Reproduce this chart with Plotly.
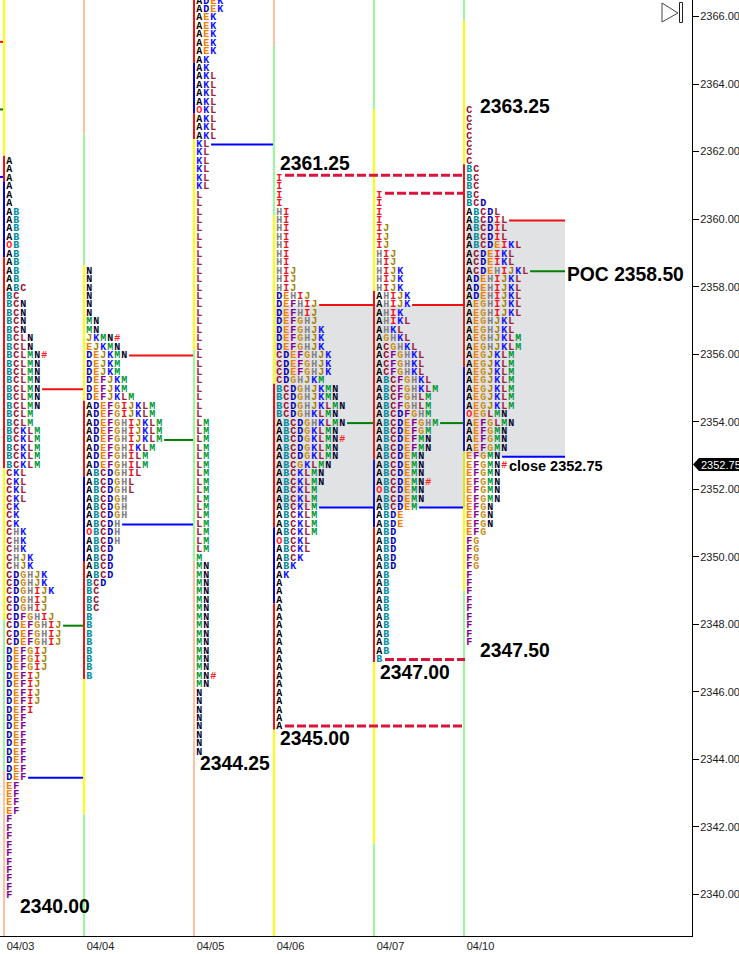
import plotly.graph_objects as go

# profile rows, top row first, one row per 0.25 price step. '#' marks the close
DATES = ["04/03", "04/04", "04/05", "04/06", "04/07", "04/10"]
TOP_PRICES = [2361.75, 2358.50, 2366.50, 2361.25, 2360.75, 2363.25]

ROWS_0403 = (["A"] * 6 + ["AB"] * 4 + ["OB"] + ["AB"] * 4 + ["ABC", "BC"] + ["BCN"] * 4 + ["BCLN"] * 2
             + ["BCLMN#"] + ["BCLMN"] * 6 + ["BCLM"] * 2 + ["BCKLM"] * 5 + ["CKL"] * 4 + ["CK"] * 3
             + ["CHK"] * 3 + ["CHJK"] * 2 + ["CDGHJK"] * 2 + ["CDGHIJK"] + ["CDGHIJ"] * 2 + ["CDFGHIJ"]
             + ["CDEFGHIJ"] * 3 + ["DEFGIJ"] * 3 + ["DEFIJ"] * 4 + ["DEFI"] + ["DEF"] * 8 + ["EF"] * 4 + ["F"] * 10)
ROWS_0404 = (["N"] * 6 + ["MN"] * 2 + ["JKMN#", "EJKMN", "DEJKMN"] + ["DEJKM"] * 2 + ["DEFJKM"] * 2 + ["DEFJKLM"]
             + ["ADEFGIJKLM"] * 2 + ["ADEFGHIJKLM"] * 3 + ["ADEFGHIKLM"] + ["ADEFGHILM"] * 2 + ["ABCDGHIL"]
             + ["ABCDGHL"] * 2 + ["ABCDGH"] * 3 + ["ABCDH", "OBCDH", "ABCDH"] + ["ABCD"] * 4 + ["BCD"]
             + ["BC"] * 3 + ["B"] * 8)
ROWS_0405 = (["ADEK"] * 2 + ["AEK"] * 5 + ["AK"] * 2 + ["AKL"] * 4 + ["OKL"] + ["AKL"] * 3 + ["KL"] * 6 + ["L"] * 27
             + ["LM"] * 16 + ["M"] + ["MN"] * 13 + ["MN#", "MN"] + ["N"] * 8)
ROWS_0406 = (["I"] * 4 + ["HI"] * 7 + ["HIJ"] * 3 + ["DEHIJ"] + ["DEFHIJ"] * 2 + ["DEFGHJ"] + ["DEFGHJK"] * 3
             + ["CDEFGHJK"] * 3 + ["CDGHJKM"] + ["BCDGHJKMN"] * 2 + ["BCDGHJKLMN", "BCDGHKLMN", "ABCDGHKLMN",
             "ABCDGKLMN", "ABCDGKLMN#", "ABCDGKLMN", "ABCDGKLMN", "ABCGKLMN"] + ["ABCKLMN"] * 2 + ["ABCKLM"] * 6
             + ["OBCKL", "ABCKL", "ABCK", "ABK", "AK"] + ["A"] * 18)
ROWS_0407 = (["I"] * 4 + ["IJ"] * 3 + ["HIJ"] * 2 + ["HIJK"] * 3 + ["AHIJK"] * 2 + ["AHIK", "AHIKL", "AHKL", "AGHKL",
             "ACGHKL"] + ["ACFGHKL"] * 3 + ["ABCFGHKL", "ABCFGHKLM"] + ["ABCFGHLM"] * 2 + ["ABCDFGHM", "ABCDEFGHM",
             "ABCDEFGM"] + ["ABCDEFMN"] * 2 + ["ABCDEMN"] * 3 + ["ABCDEMN#", "OBCDEMN", "ABCDEMN", "ABCDEM"]
             + ["ABDE"] * 2 + ["ABD"] * 5 + ["AB"] * 10 + ["B"])
ROWS_0410 = (["C"] * 7 + ["BC"] * 4 + ["BCD", "ABCDL"] + ["ABCDIL"] * 3 + ["ABCDEIKL"] + ["ACDEIKL"] * 2 + ["ACDEHIJKL"]
             + ["ADEHIJKL"] * 3 + ["AEGHIJKL"] * 2 + ["AEGHJKL"] * 2 + ["AEGHJKLM"] * 2 + ["AEGJKLM"] * 7
             + ["OEGLMN", "AEFGLMN"] + ["AEFGMN"] * 3 + ["EFGMN", "EFGMN#"] + ["EFGMN"] * 4 + ["EFGN"] * 3 + ["EFG"]
             + ["FG"] * 4 + ["F"] * 9)
PROFILES = [ROWS_0403, ROWS_0404, ROWS_0405, ROWS_0406, ROWS_0407, ROWS_0410]

# value area: high, poc, low for each session (None = off the chart)
VA_HIGH = [2355.00, 2356.00, None, 2357.50, 2357.50, 2360.00]
VA_POC = [2348.00, 2353.50, None, 2354.00, 2354.00, 2358.50]
VA_LOW = [2343.50, 2351.00, 2362.25, 2351.50, 2351.50, 2353.00]
PREV_LEVELS = [2365.25, 2363.25, 2361.25]

# coloured session bars: colour runs and the prices where the colour changes
BAR_COLORS = [
    ["yellow", "red", "blue", "red", "yellow", "green", "peach"],
    ["peach", "green", "yellow", "red", "blue", "red", "yellow", "green"],
    ["red", "blue", "red", "yellow", "green", "peach"],
    ["peach", "green", "yellow", "red", "blue", "red", "yellow"],
    ["green", "yellow", "red", "blue", "red", "yellow", "green"],
    ["green", "yellow", "red", "blue", "yellow", "green"],
]
BAR_BREAKS = [
    [2361.875, 2361.125, 2358.875, 2352.625, 2348.125, 2343.625],
    [2362.50, 2358.625, 2354.625, 2352.375, 2349.875, 2346.375, 2342.375],
    [2364.625, 2363.125, 2362.375, 2356.125, 2349.875],
    [2365.125, 2360.125, 2355.125, 2350.875, 2348.625, 2344.875],
    [2363.25, 2357.875, 2352.875, 2350.875, 2346.875, 2341.50],
    [2365.875, 2361.625, 2355.625, 2353.125, 2349.00],
]

LETTER_COLORS = {
    "A": "#000000", "B": "#008c9e", "C": "#98102c", "D": "#0000b4", "E": "#f08000", "F": "#800090",
    "G": "#c89020", "H": "#808080", "I": "#f01020", "J": "#a08000", "K": "#1010ff", "L": "#a02040",
    "M": "#009a38", "N": "#000028", "O": "#ff2020", "#": "#ff2020",
}
BAR_PALETTE = {"yellow": "#ffff00", "red": "#ee1111", "blue": "#0000ee", "green": "#98fb98", "peach": "#ffc0a0"}

# layout, x axis runs in pixels of the plot area
SESSION_X = [4, 84, 194, 274, 374, 464]
LAST_X = 565
LETTER_STEP = 7.0
PLOT_W, PLOT_H = 692, 936
Y_RANGE = [2338.77, 2366.49]
ROW_NUDGE = -0.04  # rows sit a pixel or so under their tick
TEXT_FONT = "Liberation Sans"


def price_at(py):
    return Y_RANGE[1] - py * (Y_RANGE[1] - Y_RANGE[0]) / PLOT_H


def px(x, y):
    return f"{x / PLOT_W:.5f}", f"{1 - y / PLOT_H:.5f}"


def row_end(session, price):
    idx = int(round((TOP_PRICES[session] - price) / 0.25))
    return SESSION_X[session] + 5.3 + len(PROFILES[session][idx]) * LETTER_STEP - 2.2


fig = go.Figure()

# session bars
for s, x in enumerate(SESSION_X):
    edges = [Y_RANGE[1]] + BAR_BREAKS[s] + [Y_RANGE[0]]
    for i, name in enumerate(BAR_COLORS[s]):
        fig.add_trace(go.Scatter(x=[x, x], y=[edges[i], edges[i + 1]], mode="lines",
                                 line=dict(color=BAR_PALETTE[name], width=2), hoverinfo="skip"))

# value area boxes, over the bars and under the letters
BOX_X = [(275, 372), (372, 465.5), (466, LAST_X)]
BOX_SESSIONS = [3, 4, 5]
for (x0, x1), s in zip(BOX_X, BOX_SESSIONS):
    y0, y1 = VA_LOW[s] + ROW_NUDGE, VA_HIGH[s] + ROW_NUDGE
    fig.add_trace(go.Scatter(x=[x0, x1, x1, x0, x0], y=[y0, y0, y1, y1, y0], mode="lines", fill="toself",
                             fillcolor="rgba(105,112,120,0.2)", line=dict(width=0), hoverinfo="skip"))

# value area lines
for levels, color in ((VA_HIGH, "#ee1111"), (VA_POC, "#008000"), (VA_LOW, "#0000ff")):
    for s, price in enumerate(levels):
        if price is None:
            continue
        x1 = SESSION_X[s + 1] - 1 if s + 1 < len(SESSION_X) else LAST_X
        fig.add_trace(go.Scatter(x=[row_end(s, price), x1], y=[price + ROW_NUDGE] * 2, mode="lines",
                                 line=dict(color=color, width=2), hoverinfo="skip"))
for price, color in zip(PREV_LEVELS, ("#ee1111", "#008000", "#0000ff")):
    fig.add_trace(go.Scatter(x=[0, 3], y=[price, price], mode="lines", line=dict(color=color, width=2),
                             hoverinfo="skip"))

# session highs and lows
DASH_LEVELS = [2361.30, 2360.77, 2344.99, 2346.96]
DASH_START = [285, 385, 285, 385]
for price, x0 in zip(DASH_LEVELS, DASH_START):
    fig.add_trace(go.Scatter(x=[x0, 465], y=[price, price], mode="lines",
                             line=dict(color="#dc143c", width=3, dash="9px,3px"), hoverinfo="skip"))

# letters, one trace per letter so each keeps its colour
cells = {ch: ([], []) for ch in LETTER_COLORS}
for s, rows in enumerate(PROFILES):
    for r, row in enumerate(rows):
        for c, ch in enumerate(row):
            cells[ch][0].append(SESSION_X[s] + 5.3 + c * LETTER_STEP)
            cells[ch][1].append(TOP_PRICES[s] - r * 0.25 + ROW_NUDGE)
for ch, (xs, ys) in cells.items():
    fig.add_trace(go.Scatter(x=xs, y=ys, mode="text", text=[ch] * len(xs), textposition="middle center",
                             textfont=dict(family="Liberation Mono", size=10, color=LETTER_COLORS[ch], weight=700),
                             hoverinfo="skip"))

# big labels
LABELS = ["2363.25", "2361.25", "POC 2358.50", "2344.25", "2345.00", "2347.00", "2347.50", "2340.00", "close 2352.75"]
LABEL_X = [479, 279, 566, 199, 279, 379, 479, 19, 508]
LABEL_Y = [106, 163, 274, 763, 738, 672, 650, 906, 466]
LABEL_SIZE = [19.3] * 8 + [14.5]
annotations = []
for text, x, y, size in zip(LABELS, LABEL_X, LABEL_Y, LABEL_SIZE):
    annotations.append(dict(x=x, y=price_at(y), xref="x", yref="y", text=f"<b>{text}</b>", showarrow=False,
                            xanchor="left", yanchor="middle", borderpad=0,
                            font=dict(family=TEXT_FONT, size=size, color="#000000")))

# last price tag on the axis and the replay icon
tag_y = price_at(464.5)
annotations.append(dict(x=700 / PLOT_W, y=tag_y, xref="paper", yref="y", text="2352.75", showarrow=False,
                        xanchor="left", yanchor="middle", borderpad=0,
                        font=dict(family=TEXT_FONT, size=11, color="#ffffff")))


def poly(points):
    return "M" + " L".join(" ".join(px(a, b)) for a, b in points) + " Z"


shapes = [
    dict(type="path", xref="paper", yref="paper", fillcolor="#000000", line=dict(width=0),
         path=poly([(693, 464.5), (699, 458), (745, 458), (745, 471), (699, 471)])),
    dict(type="path", xref="paper", yref="paper", line=dict(color="#444444", width=1),
         path=poly([(662, 3), (678, 13), (662, 22)])),
    dict(type="path", xref="paper", yref="paper", line=dict(color="#222222", width=1),
         path=poly([(679.5, 2.5), (682.5, 2.5), (682.5, 22.5), (679.5, 22.5)])),
]

fig.update_layout(
    width=739, height=954,
    margin=dict(l=0, r=47, t=0, b=18),
    paper_bgcolor="white", plot_bgcolor="white",
    showlegend=False,
    shapes=shapes,
    annotations=annotations,
    xaxis=dict(range=[0, PLOT_W], tickvals=[x + 16.5 for x in SESSION_X], ticktext=DATES, ticks="", showgrid=False,
               zeroline=False, showline=True, linecolor="black", linewidth=1, automargin=False,
               tickfont=dict(family=TEXT_FONT, size=11, color="#222222")),
    yaxis=dict(range=Y_RANGE, side="right", tickvals=list(range(2340, 2367, 2)), tickformat=".2f", ticks="outside",
               ticklen=6, tickcolor="black", showgrid=False, zeroline=False, showline=True, linecolor="black",
               linewidth=1, automargin=False, ticklabelstandoff=-1,
               tickfont=dict(family=TEXT_FONT, size=11, color="#222222")),
)

fig.write_html("out.html", config=dict(displayModeBar=False),
               post_script="document.body.style.margin='0';document.body.style.overflow='hidden';")
